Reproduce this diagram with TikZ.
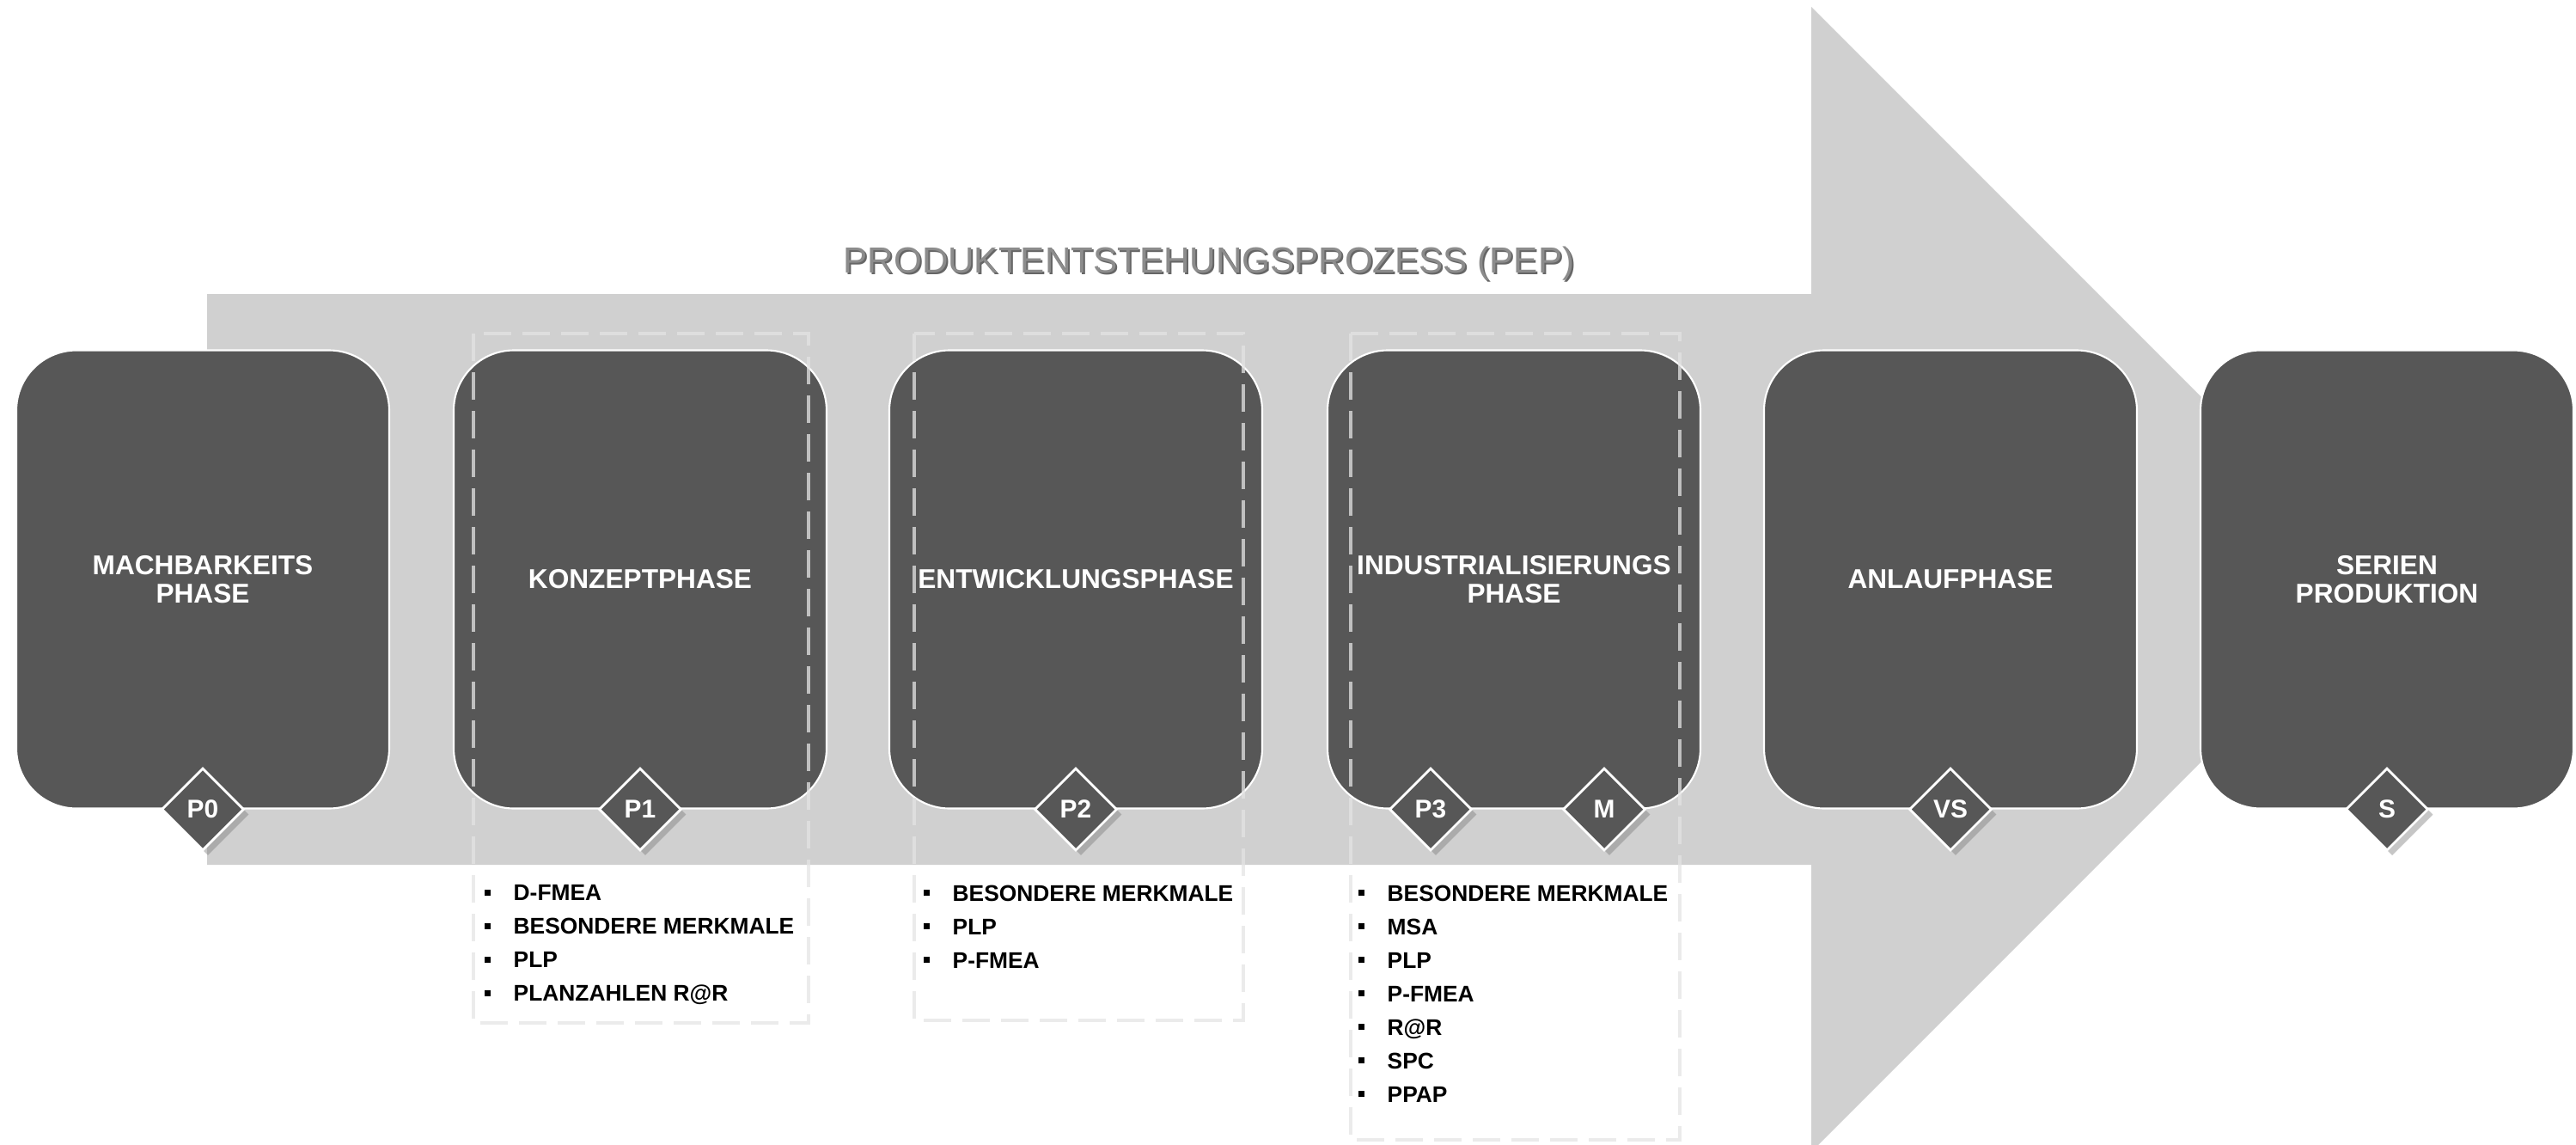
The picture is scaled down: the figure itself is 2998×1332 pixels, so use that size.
\documentclass[tikz,border=0pt]{standalone}
\usepackage{fontspec}
\setmainfont{Liberation Sans}
\usetikzlibrary{shapes.geometric}
\usetikzlibrary{shadows}
\definecolor{boxgray}{HTML}{575757}
\definecolor{arrowgray}{HTML}{D0D0D0}
\definecolor{dashgray}{HTML}{E4E4E4}
\definecolor{titlegray}{HTML}{8C8C8C}
\definecolor{titleshade}{HTML}{666666}
\newcommand{\bul}{\rule[0.6mm]{0.7mm}{0.7mm}\hspace{2.7mm}}

\begin{document}
\begin{tikzpicture}[x=0.1mm,y=-0.1mm,
 phase/.style={rectangle,rounded corners=0.7cm,minimum width=4.34cm,minimum height=5.33cm,fill=boxgray,draw=white,line width=0.6pt,text=white,align=center,font=\bfseries\fontsize{9}{9.3}\selectfont},
 gate/.style={diamond,aspect=1,minimum size=0.96cm,inner sep=0pt,fill=boxgray,draw=white,line width=0.8pt,text=white,font=\bfseries\fontsize{8.5}{9}\selectfont,drop shadow={shadow xshift=0.6mm,shadow yshift=-0.6mm,opacity=0.45}},
 framedash/.style={dashgray,opacity=0.75,line width=1.15pt,dash pattern=on 0.32cm off 0.13cm},
 itemlist/.style={anchor=north west,inner sep=0pt,align=left,font=\bfseries\fontsize{7.5}{11.1}\selectfont},
 headline/.style={font=\fontsize{12}{14}\selectfont}]
 \useasboundingbox (0,0) rectangle (2998,1332);
 % grosser Prozesspfeil
 \fill[arrowgray] (241,342)--(2108,342)--(2108,8)--(2774,674)--(2108,1340)--(2108,1006)--(241,1006)--cycle;
 \node[headline,text=titleshade] (titleshade) at (1409,309) {PRODUKTENTSTEHUNGSPROZESS (PEP)};
 \node[headline,text=titlegray] (title) at (1407,307) {PRODUKTENTSTEHUNGSPROZESS (PEP)};
 % Phasen
 \node[phase] (mach) at (236,674) {MACHBARKEITS\\PHASE};
 \node[phase] (konzept) at (745,674) {KONZEPTPHASE};
 \node[phase] (entw) at (1252,674) {ENTWICKLUNGSPHASE};
 \node[phase] (indus) at (1762,674) {INDUSTRIALISIERUNGS\\PHASE};
 \node[phase] (anlauf) at (2270,674) {ANLAUFPHASE};
 \node[phase] (serie) at (2778,674) {SERIEN\\PRODUKTION};
 % gestrichelte Rahmen
 \draw[framedash] (551,388) rectangle (941,1190);
 \draw[framedash] (1064,388) rectangle (1447,1187);
 \draw[framedash] (1572,388) rectangle (1955,1326);
 % Meilensteine
 \node[gate] (p0) at (mach.south) {P0};
 \node[gate] (p1) at (konzept.south) {P1};
 \node[gate] (p2) at (entw.south) {P2};
 \node[gate,xshift=-0.97cm] (p3) at (indus.south) {P3};
 \node[gate,xshift=1.05cm] (m) at (indus.south) {M};
 \node[gate] (vs) at (anlauf.south) {VS};
 \node[gate] (s) at (serie.south) {S};
 % Methoden je Phase
 \node[itemlist] (liste1) at (563,1029) {\bul D-FMEA\\ \bul BESONDERE MERKMALE\\ \bul PLP\\ \bul PLANZAHLEN R@R};
 \node[itemlist] (liste2) at (1074,1029) {\bul BESONDERE MERKMALE\\ \bul PLP\\ \bul P-FMEA};
 \node[itemlist] (liste3) at (1580,1029) {\bul BESONDERE MERKMALE\\ \bul MSA\\ \bul PLP\\ \bul P-FMEA\\ \bul R@R\\ \bul SPC\\ \bul PPAP};
\end{tikzpicture}
\end{document}
